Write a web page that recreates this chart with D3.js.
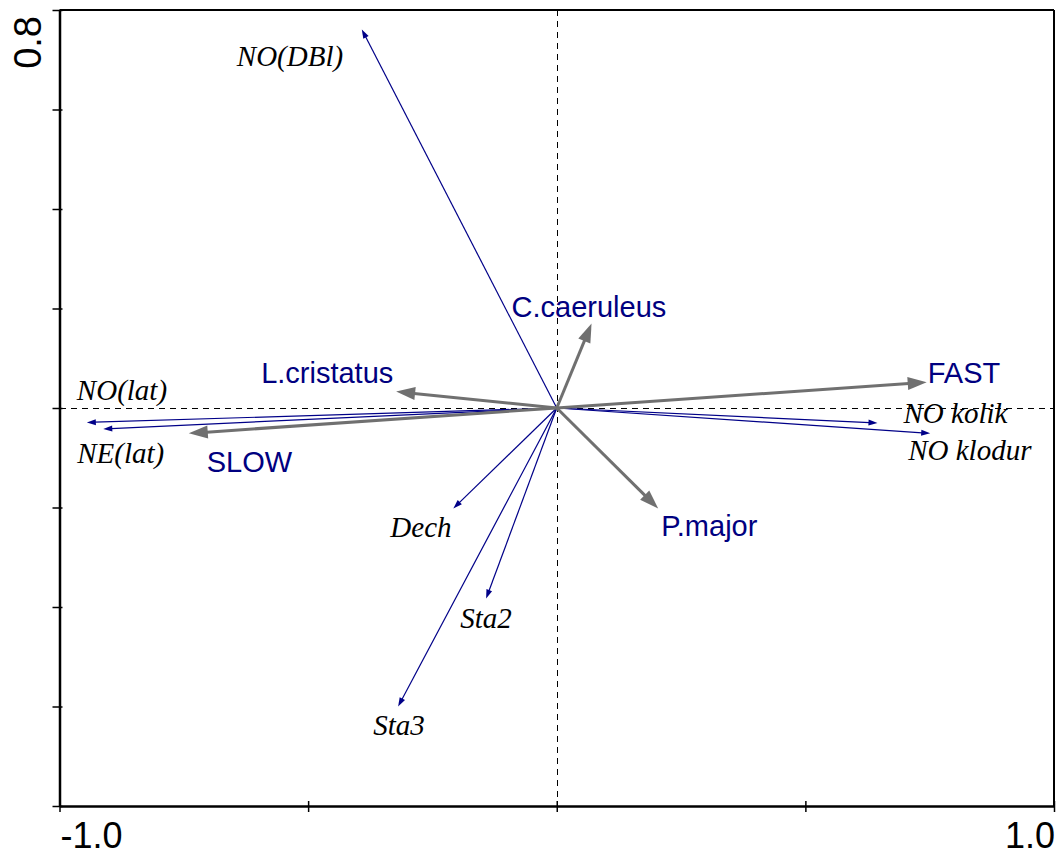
<!DOCTYPE html>
<html>
<head>
<meta charset="utf-8">
<script src="https://cdn.jsdelivr.net/npm/d3@7"></script>
<style>
  html, body { margin: 0; padding: 0; background: #fff; }
  svg { display: block; }
</style>
</head>
<body>
<svg id="chart" width="1062" height="856"></svg>
<script>
// ---- Data ----
// Environmental variables (thin blue arrows)
const envNames = ["NO(DBl)", "NO(lat)", "NE(lat)", "NO kolik", "NO klodur", "Dech", "Sta2", "Sta3"];
const envX = [-0.392, -0.945, -0.912, 0.645, 0.751, -0.208, -0.142, -0.319];
const envY = [0.761, -0.029, -0.042, -0.030, -0.051, -0.202, -0.383, -0.600];

// Species / groups (thick grey arrows)
const spNames = ["SLOW", "L.cristatus", "C.caeruleus", "FAST", "P.major"];
const spX = [-0.740, -0.323, 0.070, 0.744, 0.204];
const spY = [-0.051, 0.033, 0.170, 0.052, -0.202];

// Axis tick values and labels
const xTicks = [-1.0, -0.5, 0, 0.5, 1.0];
const yTicks = [-0.8, -0.6, -0.4, -0.2, 0, 0.2, 0.4, 0.6, 0.8];
const xTickLabels = ["-1.0", "1.0"];
const yTickLabels = ["0.8"];

// ---- Layout (pixel label offsets relative to arrow tips) ----
const envLabelOffset = {
  "NO(DBl)": [-125, 37], "NO(lat)": [-10, -22], "NE(lat)": [-26, 34],
  "NO kolik": [26, 0], "NO klodur": [-22, 27], "Dech": [-63, 29],
  "Sta2": [-26, 29], "Sta3": [-25, 28]
};
const spLabelOffset = {
  "SLOW": [18, 39], "L.cristatus": [-135, -9], "C.caeruleus": [-80, -6],
  "FAST": [1, 1], "P.major": [3, 28]
};

const svg = d3.select("#chart");
const x = d3.scaleLinear().domain([-1, 1]).range([59.5, 1054]);
const y = d3.scaleLinear().domain([-0.8, 0.8]).range([806, 10]);

const BLUE = "#000088";
const NAVY = "#000080";
const GREY = "#707070";

// dashed zero lines
svg.append("line")
  .attr("x1", Math.round(x(0)) + 0.5).attr("x2", Math.round(x(0)) + 0.5)
  .attr("y1", y(0.8)).attr("y2", y(-0.8))
  .attr("stroke", "#000").attr("stroke-width", 1).attr("stroke-dasharray", "6,5")
  .attr("shape-rendering", "crispEdges");
svg.append("line")
  .attr("x1", x(-1)).attr("x2", x(1)).attr("y1", y(0) + 0.5).attr("y2", y(0) + 0.5)
  .attr("stroke", "#000").attr("stroke-width", 1).attr("stroke-dasharray", "6,5")
  .attr("shape-rendering", "crispEdges");

// frame: top and right
svg.append("line").attr("x1", x(-1)).attr("x2", x(1)).attr("y1", y(0.8)).attr("y2", y(0.8))
  .attr("stroke", "#000").attr("stroke-width", 2);
svg.append("line").attr("x1", x(1)).attr("x2", x(1)).attr("y1", y(0.8)).attr("y2", y(-0.8))
  .attr("stroke", "#000").attr("stroke-width", 2);

// axes
const gx = svg.append("g").attr("transform", `translate(0,${y(-0.8)})`)
  .call(d3.axisBottom(x).tickValues(xTicks).tickFormat("").tickSizeOuter(0).tickSizeInner(5));
gx.select(".domain").attr("stroke-width", 2.5);
gx.selectAll(".tick line").attr("y1", -5).attr("y2", 6).attr("stroke-width", 1.5);

const gy = svg.append("g").attr("transform", `translate(${x(-1)},0)`)
  .call(d3.axisLeft(y).tickValues(yTicks).tickFormat("").tickSizeOuter(0).tickSizeInner(7));
gy.select(".domain").attr("stroke-width", 2.5);
gy.selectAll(".tick line").attr("x1", 3).attr("x2", -7).attr("stroke-width", 1.5);

// tick labels
const tickFont = "'Liberation Sans', Arial, sans-serif";
svg.append("text").text(xTickLabels[0])
  .attr("x", x(-1) + 1).attr("y", 848).attr("text-anchor", "start")
  .attr("font-family", tickFont).attr("font-size", 36).attr("fill", "#000");
svg.append("text").text(xTickLabels[1])
  .attr("x", x(1) + 1).attr("y", 848).attr("text-anchor", "end")
  .attr("font-family", tickFont).attr("font-size", 36).attr("fill", "#000");
svg.append("text").text(yTickLabels[0])
  .attr("transform", `translate(41,${y(0.8) + 6}) rotate(-90)`)
  .attr("text-anchor", "end")
  .attr("font-family", tickFont).attr("font-size", 38).attr("fill", "#000");

// arrow helper
function arrow(g, x1, y1, x2, y2, color, width, headLen, headW) {
  const dx = x2 - x1, dy = y2 - y1;
  const L = Math.sqrt(dx * dx + dy * dy);
  const ux = dx / L, uy = dy / L;
  const bx = x2 - ux * headLen, by = y2 - uy * headLen;
  g.append("line").attr("x1", x1).attr("y1", y1).attr("x2", bx + ux * 1).attr("y2", by + uy * 1)
    .attr("stroke", color).attr("stroke-width", width);
  const px = -uy, py = ux;
  g.append("polygon")
    .attr("points", [
      [x2, y2],
      [bx + px * headW / 2, by + py * headW / 2],
      [bx - px * headW / 2, by - py * headW / 2]
    ].map(p => p.join(",")).join(" "))
    .attr("fill", color);
}

const envData = envNames.map((n, i) => ({ name: n, x: envX[i], y: envY[i] }));
const spData = spNames.map((n, i) => ({ name: n, x: spX[i], y: spY[i] }));

const gArrows = svg.append("g");
envData.forEach(d => arrow(gArrows, x(0), y(0), x(d.x), y(d.y), BLUE, 1.2, 9, 6));
spData.forEach(d => arrow(gArrows, x(0), y(0), x(d.x), y(d.y), GREY, 3, 19, 13));

// labels
svg.append("g").selectAll("text").data(envData).join("text")
  .attr("x", d => x(d.x) + envLabelOffset[d.name][0])
  .attr("y", d => y(d.y) + envLabelOffset[d.name][1])
  .attr("font-family", "'Liberation Serif', 'Times New Roman', serif")
  .attr("font-style", "italic")
  .attr("font-size", 29)
  .attr("fill", "#000")
  .text(d => d.name);

svg.append("g").selectAll("text").data(spData).join("text")
  .attr("x", d => x(d.x) + spLabelOffset[d.name][0])
  .attr("y", d => y(d.y) + spLabelOffset[d.name][1])
  .attr("font-family", "'Liberation Sans', Arial, sans-serif")
  .attr("font-size", 29)
  .attr("fill", NAVY)
  .text(d => d.name);
</script>
</body>
</html>
